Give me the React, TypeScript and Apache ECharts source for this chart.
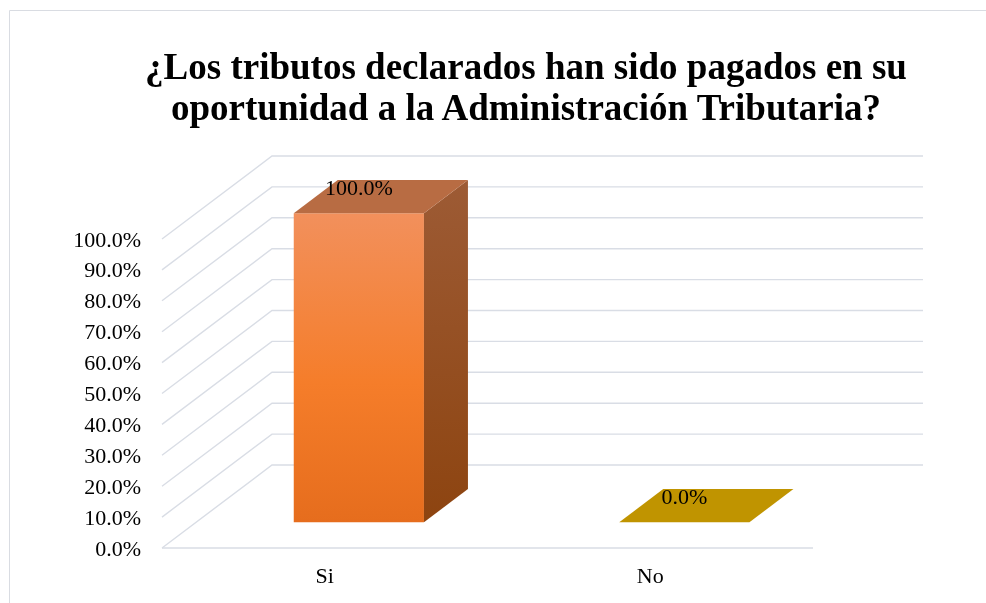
import React, { useEffect, useRef } from "react";
import * as echarts from "echarts";

const titleLines = [
  "¿Los tributos declarados han sido pagados en su",
  "oportunidad a la Administración Tributaria?",
];
const categories = ["Si", "No"];
const values = [1.0, 0.0];
const yTicks = [0, 0.1, 0.2, 0.3, 0.4, 0.5, 0.6, 0.7, 0.8, 0.9, 1.0];

// 3D projection constants (style)
const DEPTH_X = 110;
const DEPTH_Y = -83;
const BAR_FRONT = 0.31; // fraction of depth where bar front sits
const BAR_DEPTH = 0.4; // fraction of depth the bar occupies
const BAR_WIDTH = 0.4; // fraction of the category band

const faceColors = [
  {
    front: new echarts.graphic.LinearGradient(0, 0, 0, 1, [
      { offset: 0, color: "#f2905c" },
      { offset: 0.55, color: "#f57d2a" },
      { offset: 1, color: "#e66d1d" },
    ]),
    side: new echarts.graphic.LinearGradient(0, 0, 0, 1, [
      { offset: 0, color: "#9d5b35" },
      { offset: 1, color: "#8d4410" },
    ]),
    top: "#b86c43",
  },
  { front: "#c09400", side: "#8f6e00", top: "#c09400" },
];

const fmtPct = (v: number) => (v * 100).toFixed(1) + "%";
const FONT = "Times New Roman";

export default function App() {
  const ref = useRef<HTMLDivElement>(null);
  useEffect(() => {
    if (!ref.current) return;
    const chart = echarts.init(ref.current, undefined, { renderer: "svg" });
    chart.setOption({
      animation: false,
      title: {
        text: titleLines.join("\n"),
        left: 521,
        top: 41,
        textAlign: "center",
        textStyle: {
          fontFamily: FONT,
          fontWeight: "bold",
          fontSize: 37,
          lineHeight: 41,
          color: "#000",
        },
      },
      graphic: [
        {
          type: "rect",
          shape: { x: 9.5, y: 10.5, width: 1000, height: 700 },
          style: { fill: "none", stroke: "#d9dce2", lineWidth: 1 },
          silent: true,
        },
      ],
      grid: { left: 162, right: 173, top: 239, bottom: 55 },
      xAxis: {
        type: "category",
        data: categories,
        axisLine: { show: false },
        axisTick: { show: false },
        axisLabel: {
          margin: 16,
          fontFamily: FONT,
          fontSize: 22,
          color: "#000",
        },
      },
      yAxis: {
        type: "value",
        min: 0,
        max: 1,
        interval: 0.1,
        axisLine: { show: false },
        axisTick: { show: false },
        splitLine: { show: false },
        axisLabel: {
          margin: 21,
          fontFamily: FONT,
          fontSize: 22,
          color: "#000",
          formatter: (v: number) => fmtPct(v),
        },
      },
      series: [
        {
          type: "custom",
          clip: false,
          silent: true,
          z: 1,
          data: yTicks.map((v) => [0, v]),
          renderItem: (params: any, api: any) => {
            const cs = params.coordSys;
            const y = api.coord([0, api.value(1)])[1];
            const x0 = cs.x;
            const x1 = cs.x + cs.width;
            const isZero = api.value(1) === 0;
            const children: any[] = [
              {
                type: "polyline",
                shape: {
                  points: [
                    [x0, y],
                    [x0 + DEPTH_X, y + DEPTH_Y],
                    [x1 + DEPTH_X, y + DEPTH_Y],
                  ],
                },
                style: { fill: "none", stroke: "#d9dde5", lineWidth: 1.4 },
              },
            ];
            if (isZero) {
              children.push({
                type: "line",
                shape: { x1: x0, y1: y, x2: x1, y2: y },
                style: { stroke: "#d9dde5", lineWidth: 1.4 },
              });
            }
            return { type: "group", children };
          },
        },
        {
          type: "custom",
          clip: false,
          z: 2,
          data: values.map((v, i) => [i, v]),
          renderItem: (params: any, api: any) => {
            const idx = api.value(0);
            const val = api.value(1);
            const base = api.coord([idx, 0]);
            const top = api.coord([idx, val]);
            const band = api.size([1, 0])[0];
            const w = band * BAR_WIDTH;
            const fx = DEPTH_X * BAR_FRONT;
            const fy = DEPTH_Y * BAR_FRONT;
            const dx = DEPTH_X * BAR_DEPTH;
            const dy = DEPTH_Y * BAR_DEPTH;
            const lx = base[0] - w / 2 + fx;
            const rx = lx + w;
            const by = base[1] + fy;
            const ty = top[1] + fy;
            const c = faceColors[idx % faceColors.length];
            const children: any[] = [];
            if (by - ty > 0.5) {
              children.push({
                type: "polygon",
                shape: { points: [[lx, ty], [rx, ty], [rx, by], [lx, by]] },
                style: { fill: c.front },
              });
              children.push({
                type: "polygon",
                shape: {
                  points: [
                    [rx, ty],
                    [rx + dx, ty + dy],
                    [rx + dx, by + dy],
                    [rx, by],
                  ],
                },
                style: { fill: c.side },
              });
            }
            children.push({
              type: "polygon",
              shape: {
                points: [
                  [lx, ty],
                  [rx, ty],
                  [rx + dx, ty + dy],
                  [lx + dx, ty + dy],
                ],
              },
              style: { fill: c.top },
            });
            children.push({
              type: "text",
              style: {
                text: fmtPct(val),
                x: (lx + rx) / 2,
                y: ty - 26,
                align: "center",
                verticalAlign: "middle",
                fontFamily: FONT,
                fontSize: 22,
                fill: "#000",
              },
            });
            return { type: "group", children };
          },
        },
      ],
    });
    return () => chart.dispose();
  }, []);
  return (
    <div
      ref={ref}
      style={{ position: "fixed", left: 0, top: 0, width: 986, height: 603 }}
    />
  );
}
